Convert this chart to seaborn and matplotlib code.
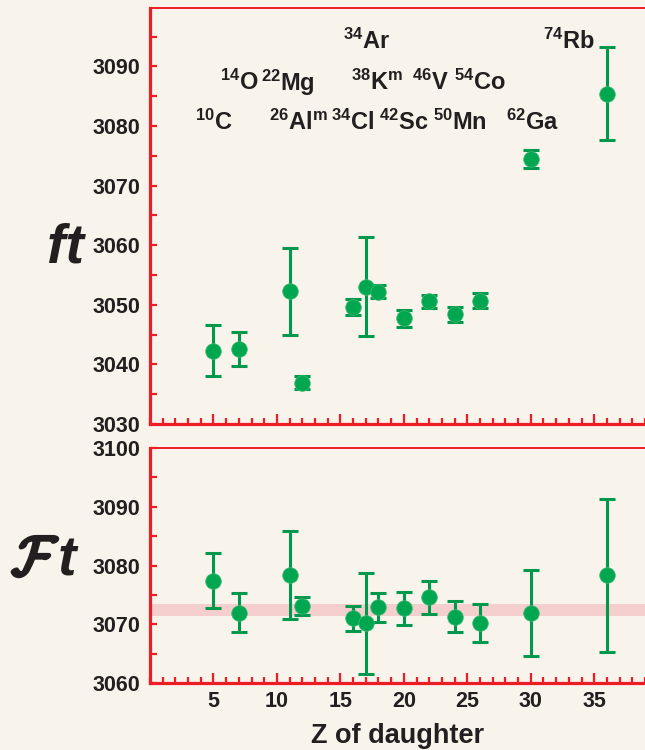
import numpy as np
import pandas as pd
import seaborn as sns
import matplotlib
matplotlib.use("Agg")
import matplotlib.pyplot as plt
from matplotlib.ticker import MultipleLocator, FixedLocator
import matplotlib.patheffects as pe

# Superallowed 0+ -> 0+ beta emitters: Z of daughter, ft, and corrected Ft values
nuclide = ["$^{10}$C", "$^{14}$O", "$^{22}$Mg", "$^{26}$Al$^{m}$", "$^{34}$Cl", "$^{34}$Ar",
           "$^{38}$K$^{m}$", "$^{42}$Sc", "$^{46}$V", "$^{50}$Mn", "$^{54}$Co", "$^{62}$Ga", "$^{74}$Rb"]
z_daughter = [5, 7, 11, 12, 16, 17, 18, 20, 22, 24, 26, 30, 36]
ft_value = [3042.3, 3042.6, 3052.3, 3036.9, 3049.6, 3053.0, 3052.2, 3047.7, 3050.6, 3048.4, 3050.7, 3074.4, 3085.4]
ft_error = [4.3, 2.8, 7.3, 1.1, 1.3, 8.3, 1.1, 1.5, 1.1, 1.3, 1.3, 1.5, 7.8]
Ft_value = [3077.4, 3072.0, 3078.4, 3073.1, 3071.0, 3070.2, 3072.9, 3072.7, 3074.6, 3071.3, 3070.2, 3071.9, 3078.3]
Ft_error = [4.7, 3.4, 7.5, 1.6, 2.1, 8.6, 2.5, 2.8, 2.8, 2.7, 3.3, 7.3, 13.0]
Ft_mean = 3072.4
Ft_mean_err = 1.0
z_ticks = [5, 10, 15, 20, 25, 30, 35]

# Where each nuclide name sits above the ft points (Z, ft)
label_z = [5.0, 7.0, 10.9, 11.7, 16.0, 17.1, 17.9, 20.0, 22.1, 24.4, 26.0, 30.1, 33.0]
label_ft = [3080.6, 3087.3, 3087.3, 3080.6, 3080.6, 3094.2, 3087.3, 3080.6, 3087.3, 3080.6, 3087.3, 3080.6, 3094.2]

df = pd.DataFrame({"Z": z_daughter, "ft": ft_value, "ft_err": ft_error,
                   "Ft": Ft_value, "Ft_err": Ft_error})

bg = "#f8f4ec"
red = "#ee1c25"
green = "#00a650"
bar_green = "#00984c"
ink = "#231f20"

sns.set_theme(style="white")
plt.rcParams.update({
    "font.family": ["Liberation Sans", "DejaVu Sans"],
    "font.weight": "bold",
    "mathtext.fontset": "custom",
    "mathtext.rm": "Liberation Sans:bold",
    "mathtext.bf": "Liberation Sans:bold",
    "mathtext.it": "Liberation Sans:bold:italic",
    "mathtext.default": "rm",
    "figure.facecolor": bg,
    "axes.facecolor": bg,
})

fig = plt.figure(figsize=(6.45, 7.5), dpi=100)
ax_top = fig.add_axes([0.2326, 0.4347, 0.7674, 0.5546])
ax_bot = fig.add_axes([0.2326, 0.0893, 0.7674, 0.3134])


def draw_panel(ax, ycol, ecol):
    ax.errorbar(df["Z"], df[ycol], yerr=df[ecol], fmt="none", ecolor=bar_green,
                elinewidth=2.2, capsize=5.6, capthick=2.2, zorder=3)
    sns.scatterplot(data=df, x="Z", y=ycol, ax=ax, color=green, s=125,
                    edgecolor="#3cb96f", linewidth=0.6, zorder=4, legend=False)


def style_axes(ax, ylim, show_xlabels):
    ax.set_xlim(0, 39)
    ax.set_ylim(*ylim)
    ax.xaxis.set_major_locator(FixedLocator(z_ticks))
    ax.xaxis.set_minor_locator(MultipleLocator(1))
    ax.yaxis.set_major_locator(MultipleLocator(10))
    ax.yaxis.set_minor_locator(MultipleLocator(5))
    for side in ("left", "bottom"):
        ax.spines[side].set_color(red)
        ax.spines[side].set_linewidth(2.3)
    ax.spines["top"].set_color(red)
    ax.spines["top"].set_linewidth(1.4)
    ax.spines["right"].set_visible(False)
    ax.tick_params(axis="x", which="major", direction="in", length=7, width=1.6,
                   color=red, labelsize=15.5, pad=6, labelcolor=ink, bottom=True)
    ax.tick_params(axis="x", which="minor", direction="in", length=4, width=1.6,
                   color=red, bottom=True)
    ax.tick_params(axis="y", which="both", direction="in", length=5, width=1.6,
                   color=red, left=True)
    ax.tick_params(axis="y", which="major", labelsize=15.5, pad=7, labelcolor=ink)
    if not show_xlabels:
        ax.tick_params(axis="x", labelbottom=False)
    for lab in ax.get_xticklabels() + ax.get_yticklabels():
        lab.set_fontweight("bold")
    ax.set_xlabel("")
    ax.set_ylabel("")
    ax.grid(False)


# Upper panel: uncorrected ft values
draw_panel(ax_top, "ft", "ft_err")
style_axes(ax_top, (3030, 3099.8), show_xlabels=False)
for name, zx, fy in zip(nuclide, label_z, label_ft):
    ax_top.text(zx, fy, name, ha="center", va="center", fontsize=17,
                color=ink, fontweight="bold")

# Lower panel: corrected Ft values with the weighted average band
ax_bot.axhspan(Ft_mean - Ft_mean_err, Ft_mean + Ft_mean_err, color="#f4cfcd", lw=0, zorder=1)
draw_panel(ax_bot, "Ft", "Ft_err")
style_axes(ax_bot, (3060, 3100), show_xlabels=True)
ax_bot.set_xlabel("Z of daughter", fontsize=19.5, fontweight="bold", color=ink, labelpad=8)

# Panel titles on the left
fig.text(0.101, 0.668, "ft", fontsize=40, color=ink, ha="center", va="center",
         fontstyle="italic", fontweight="bold")
fig.text(0.055, 0.252, r"$\mathcal{F}$", fontsize=40, color=ink, ha="center", va="center",
         math_fontfamily="cm",
         path_effects=[pe.withStroke(linewidth=2.5, foreground=ink)])
fig.text(0.104, 0.251, "t", fontsize=40, color=ink, ha="center", va="center",
         fontstyle="italic", fontweight="bold")

fig.savefig("out.png", dpi=100, facecolor=bg)
